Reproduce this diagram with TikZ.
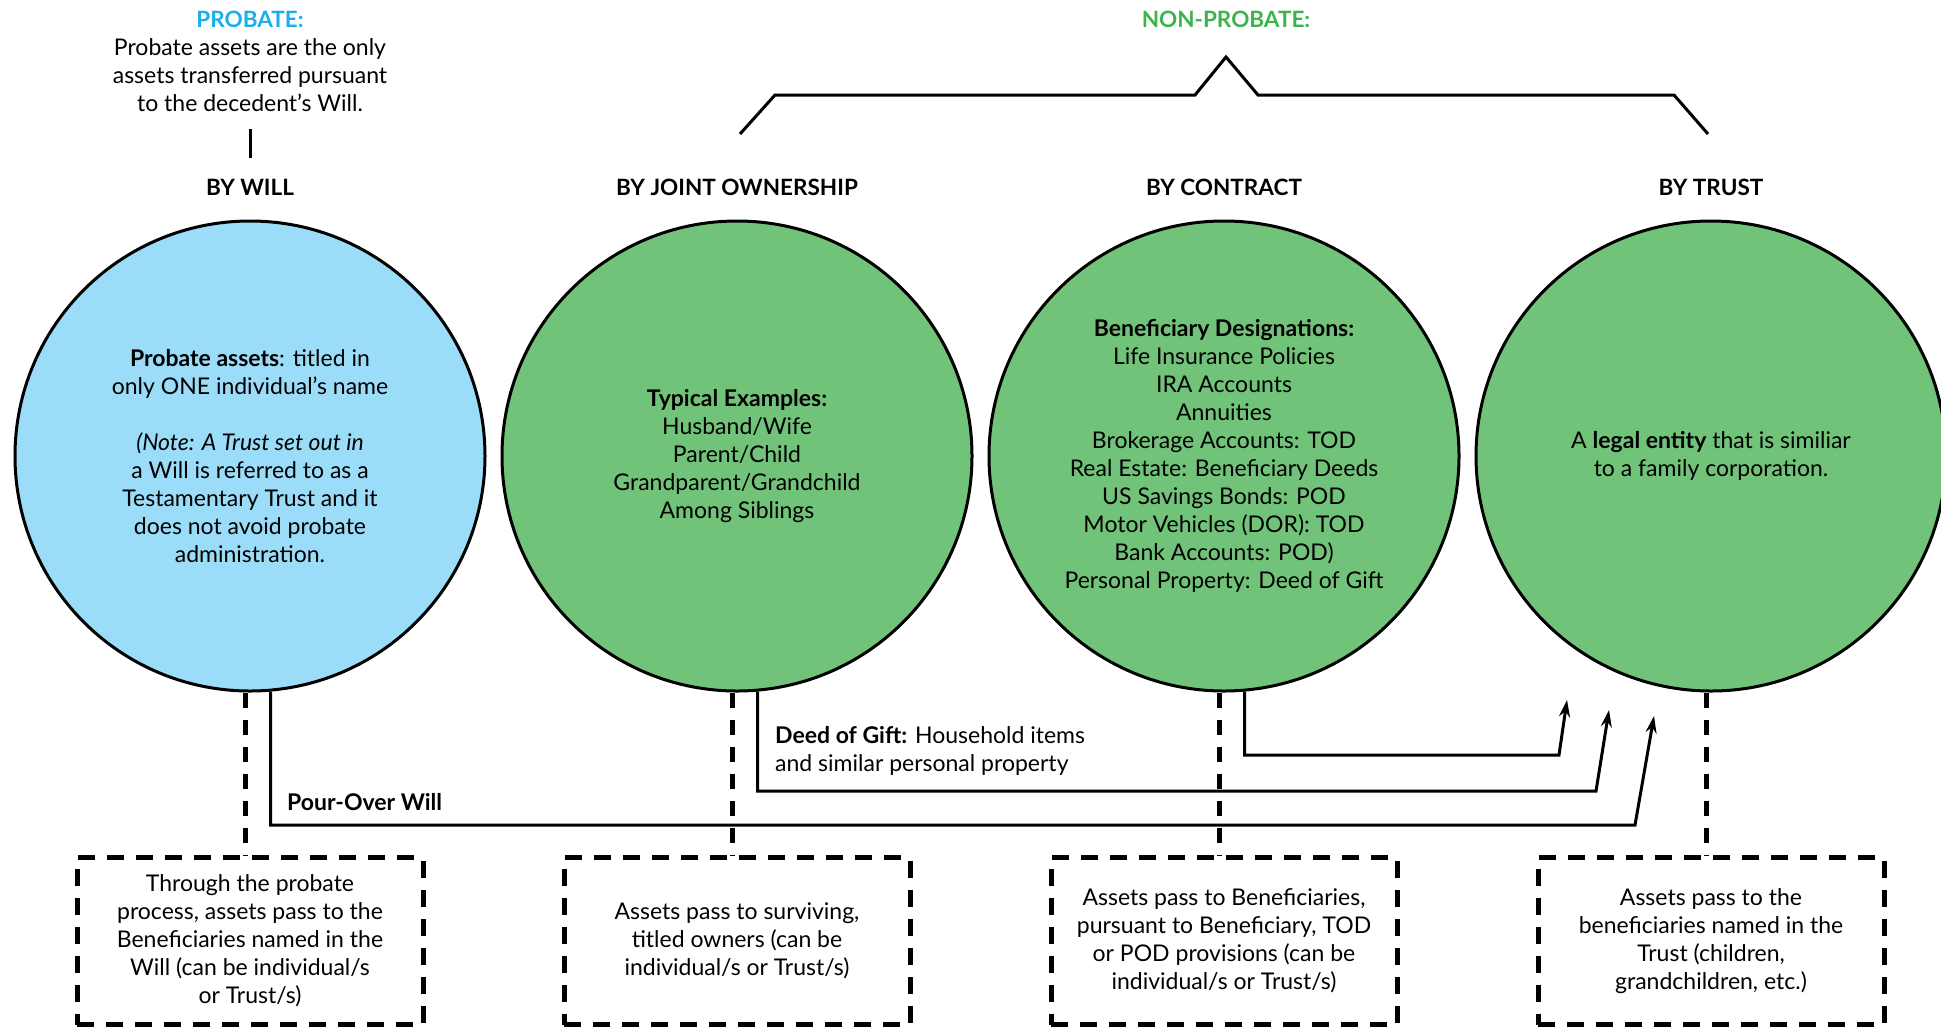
\documentclass[tikz,border=0pt]{standalone}
\usepackage{fontspec}
\setmainfont{Lato}
\usetikzlibrary{arrows.meta}
\definecolor{probblue}{RGB}{26,174,236}
\definecolor{nonprobgreen}{RGB}{60,180,75}
\definecolor{willfill}{RGB}{155,221,248}
\definecolor{trustfill}{RGB}{114,195,122}
\begin{document}
\begin{tikzpicture}[x=1pt,y=-1pt,
    txt/.style={font=\fontsize{23}{28}\selectfont, align=center, inner sep=0pt},
    ttl/.style={font=\fontsize{22.5}{26}\selectfont\bfseries, inner sep=0pt},
    circ/.style={circle, draw, line width=3pt, minimum size=470pt, inner sep=0pt, txt},
    outbox/.style={draw, line width=5pt, dash pattern=on 17pt off 12pt,
        minimum width=346pt, minimum height=167pt, inner sep=0pt, txt},
    dashline/.style={line width=5pt, dash pattern=on 15pt off 12pt},
    flow/.style={line width=3pt, -{Stealth[length=17pt,width=11pt]}}]
    \useasboundingbox (0,0) rectangle (1941,1029);
    \def\cy{456}
    \def\by{941}

    \node[ttl, text=probblue] (probhead) at (250,19) {PROBATE:};
    \node[txt] (probtxt) at (250,75) {Probate assets are the only\\assets transferred pursuant\\to the decedent’s Will.};
    \draw[line width=3pt] (250,129) -- (250,158);
    \node[ttl, text=nonprobgreen] (nonprobhead) at (1226,19) {NON-PROBATE:};
    \draw[line width=3pt] (740,134) -- (775,95) -- (1195,95) -- (1226,57) -- (1258,95) -- (1674,95) -- (1708,134);

    \node[ttl] (willttl) at (250,187) {BY WILL};
    \node[ttl] (jointttl) at (737,187) {BY JOINT OWNERSHIP};
    \node[ttl] (contractttl) at (1224,187) {BY CONTRACT};
    \node[ttl] (trustttl) at (1711,187) {BY TRUST};

    \node[circ, fill=willfill] (will) at (250,\cy) {\textbf{Probate assets}: titled in\\only ONE individual’s name\\[28pt]\itshape (Note: A Trust set out in\\a Will is referred to as a\\Testamentary Trust and it\\does not avoid probate\\administration.};
    \node[circ, fill=trustfill] (joint) at (737,\cy) {\textbf{Typical Examples:}\\Husband/Wife\\Parent/Child\\Grandparent/Grandchild\\Among Siblings};
    \node[circ, fill=trustfill] (contract) at (1224,\cy) {\textbf{Beneficiary Designations:}\\Life Insurance Policies\\IRA Accounts\\Annuities\\Brokerage Accounts: TOD\\Real Estate: Beneficiary Deeds\\US Savings Bonds: POD\\Motor Vehicles (DOR): TOD\\Bank Accounts: POD)\\Personal Property: Deed of Gift};
    \node[circ, fill=trustfill] (trust) at (1711,\cy) {A \textbf{legal entity} that is similiar\\to a family corporation.};

    \node[outbox] (willbox) at (250,\by) {Through the probate\\process, assets pass to the\\Beneficiaries named in the\\Will (can be individual/s\\or Trust/s)};
    \node[outbox] (jointbox) at (737,\by) {Assets pass to surviving,\\titled owners (can be\\individual/s or Trust/s)};
    \node[outbox] (contractbox) at (1224,\by) {Assets pass to Beneficiaries,\\pursuant to Beneficiary, TOD\\or POD provisions (can be\\individual/s or Trust/s)};
    \node[outbox] (trustbox) at (1711,\by) {Assets pass to the\\beneficiaries named in the\\Trust (children,\\grandchildren, etc.)};

    \draw[dashline] ([xshift=-5pt]will.south) -- ([xshift=-5pt]willbox.north);
    \draw[dashline] ([xshift=-5pt]joint.south) -- ([xshift=-5pt]jointbox.north);
    \draw[dashline] ([xshift=-5pt]contract.south) -- ([xshift=-5pt]contractbox.north);
    \draw[dashline] ([xshift=-5pt]trust.south) -- ([xshift=-5pt]trustbox.north);

    \coordinate (contractbend) at (1559,755);
    \coordinate (contracttip) at (1567,700);
    \coordinate (giftbend) at (1596,791);
    \coordinate (gifttip) at (1609,710);
    \coordinate (pourbend) at (1635,825);
    \coordinate (pourtip) at (1654,716);
    \draw[flow] (contract.-85) |- (contractbend) -- (contracttip);
    \draw[flow] (joint.-85) |- (giftbend) -- (gifttip);
    \draw[flow] (will.-85) |- (pourbend) -- (pourtip);

    \node[txt, font=\fontsize{23}{28}\selectfont\bfseries, anchor=west] (pourlbl) at (287,802) {Pour-Over Will};
    \node[txt, align=left, anchor=west] (giftlbl) at (775,751) {\textbf{Deed of Gift:} Household items\\and similar personal property};
\end{tikzpicture}
\end{document}
